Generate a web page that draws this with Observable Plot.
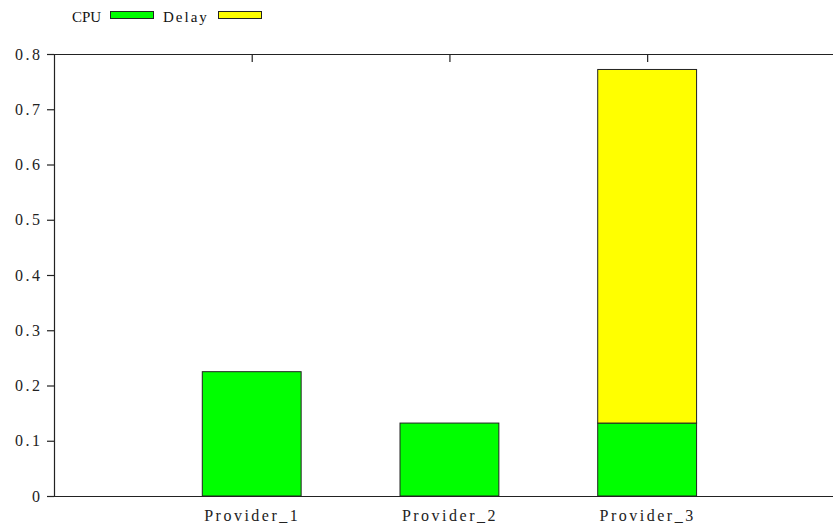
<!DOCTYPE html>
<html>
<head>
<meta charset="utf-8">
<script src="https://cdn.jsdelivr.net/npm/d3@7"></script>
<script src="https://cdn.jsdelivr.net/npm/@observablehq/plot@0.6"></script>
<style>
  html, body { margin: 0; padding: 0; background: #fff; }
  body { width: 833px; height: 526px; overflow: hidden; font-family: "Liberation Serif", "DejaVu Serif", serif; }
  #legend { position: relative; height: 32px; font-size: 15px; color: #111; }
  #legend .lbl { position: absolute; top: 7px; line-height: 20px; }
  #legend .sw { position: absolute; top: 11px; width: 42px; height: 6px; border: 1px solid #222; }
  #chart svg { display: block; }
  #chart svg text { letter-spacing: 2.5px; }
</style>
</head>
<body>
<div id="legend"></div>
<div id="chart"></div>
<script>
const providers = ["Provider_1", "Provider_2", "Provider_3"];
const series = ["CPU", "Delay"];
const colors = ["#00ff00", "#ffff00"];
const cpu = [0.225, 0.132, 0.132];
const delay = [0, 0, 0.64];
const yTicks = [0, 0.1, 0.2, 0.3, 0.4, 0.5, 0.6, 0.7, 0.8];

// legend
const legend = document.getElementById("legend");
const labelLeft = [72, 163];
const labelSpacing = [0, 2];
const swatchLeft = [110, 218];
series.forEach((s, i) => {
  const t = document.createElement("span");
  t.className = "lbl";
  t.style.left = labelLeft[i] + "px";
  t.style.letterSpacing = labelSpacing[i] + "px";
  t.textContent = s;
  legend.appendChild(t);
  const w = document.createElement("span");
  w.className = "sw";
  w.style.left = swatchLeft[i] + "px";
  w.style.background = colors[i];
  legend.appendChild(w);
});

const rows = [];
providers.forEach((p, i) => {
  rows.push({idx: i + 1, provider: p, series: "CPU", y1: 0, y2: cpu[i]});
  if (delay[i] > 0) rows.push({idx: i + 1, provider: p, series: "Delay", y1: cpu[i], y2: cpu[i] + delay[i]});
});

const ink = "#222";
const chart = Plot.plot({
  width: 833,
  height: 494,
  marginLeft: 54,
  marginRight: 0,
  marginTop: 22,
  marginBottom: 30,
  style: {fontFamily: "'Liberation Serif', 'DejaVu Serif', serif", fontSize: "16px", color: ink, background: "#fff"},
  x: {domain: [0, 3.94]},
  y: {domain: [0, 0.8]},
  color: {domain: series, range: colors},
  marks: [
    Plot.rectY(rows, {x1: d => d.idx - 0.25, x2: d => d.idx + 0.25, y1: "y1", y2: "y2", fill: "series", stroke: ink, strokeWidth: 1}),
    Plot.ruleX([0], {stroke: ink, strokeWidth: 1.2}),
    Plot.ruleY([0, 0.8], {stroke: ink, strokeWidth: 1.2}),
    Plot.axisY({ticks: yTicks, tickFormat: d => d === 0 ? "0" : d3.format(".1f")(d), tickSize: 7, tickPadding: 5, label: null, stroke: ink, strokeWidth: 1.2}),
    Plot.axisX({anchor: "bottom", ticks: [1, 2, 3], tickFormat: d => providers[d - 1], tickSize: 0, tickPadding: 13, label: null}),
    Plot.axisX({anchor: "top", ticks: [1, 2, 3], tickFormat: () => "", tickSize: 7, dy: 7, label: null, stroke: ink, strokeWidth: 1.2})
  ]
});
document.getElementById("chart").appendChild(chart);
</script>
</body>
</html>
